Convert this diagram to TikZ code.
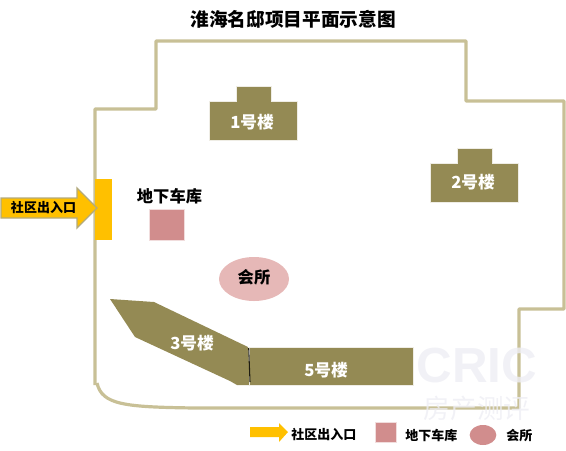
\documentclass[tikz,border=0pt]{standalone}
\usepackage{fontspec}
\setmainfont{Noto Sans CJK SC}
\usetikzlibrary{arrows.meta,positioning,shapes.geometric}
\definecolor{wallTan}{RGB}{200,192,150}
\definecolor{blockOlive}{RGB}{148,138,84}
\definecolor{gateGold}{RGB}{255,192,0}
\definecolor{garageRed}{RGB}{209,141,141}
\definecolor{clubPink}{RGB}{230,184,183}
\definecolor{markGray}{RGB}{238,238,244}
\tikzset{
  wall/.style={draw=wallTan, line width=2.4pt, line join=round},
  block/.style={fill=blockOlive, draw=white!85!blockOlive, line width=0.4pt},
  blocktext/.style={text=white, font=\fontsize{12.5}{13}\selectfont\bfseries, inner sep=0pt},
  darktext/.style={text=black, font=\fontsize{12.2}{13}\selectfont\bfseries, inner sep=0pt},
  legendtext/.style={text=black, font=\fontsize{9.75}{10}\selectfont\bfseries, inner sep=0pt},
  garage/.style={fill=garageRed, draw=white!70!garageRed, line width=0.4pt},
  watermark/.style={text=markGray, opacity=0.8, inner sep=0pt}
}
\begin{document}
\begin{tikzpicture}[x=0.75pt, y=-0.75pt]
\useasboundingbox (0,0) rectangle (566,450);
\node[text=black, font=\fontsize{14}{14}\selectfont\bfseries, inner sep=0pt] (title) at (293,19) {淮海名邸项目平面示意图};
% site boundary
\draw[wall] (95,385) -- (95,109) -- (156,109) -- (156,41) -- (466,41) -- (466,101) -- (564,101)
  -- (564,309) -- (519,309) -- (519,408) -- (195,408) .. controls (125,407) and (102,405) .. (97,383);
% buildings
\foreach \x/\y in {209.5/101,430.5/163}
  \draw[block] (\x,\y) -- (\x+27,\y) -- (\x+27,\y-15) -- (\x+62,\y-15) -- (\x+62,\y) -- (\x+88,\y)
    -- (\x+88,\y+39) -- (\x,\y+39) -- cycle;
\node[blocktext] (b1) at (252,122) {1号楼};
\node[blocktext] (b2) at (473,182) {2号楼};
\fill[blockOlive] (110,299) -- (154,302) -- (248,347) -- (250,385) -- (237,385) -- (230,381) -- (135,337) -- cycle;
\node[blocktext] (b3) at (192,343) {3号楼};
\draw[block] (249,347) rectangle (413,385);
\node[blocktext] (b5) at (326,370) {5号楼};
\draw[black!80!blockOlive, line width=0.8pt] (248.7,348) -- (250,382);
% entrance
\fill[gateGold] (95,179) rectangle (112,240);
\draw[fill=gateGold, draw=wallTan!60!blockOlive, line width=1pt] (1,198) -- (77,198) -- (77,188) -- (97,208)
  -- (77,228) -- (77,218) -- (1,218) -- cycle;
\node[legendtext] (gatetext) at (43.5,208) {社区出入口};
% garage and club
\node[darktext] (garagetext) at (169.5,196) {地下车库};
\draw[garage] (149.5,209) rectangle (184.5,240);
\node[ellipse, fill=clubPink, minimum width=52.5pt, minimum height=33pt, inner sep=0pt] (club) at (254,279) {};
\node[darktext] (clubtext) at (254,277) {会所};
% legend
\fill[gateGold] (250,427) -- (279,427) -- (279,423) -- (288,432) -- (279,442) -- (279,437) -- (250,437) -- cycle;
\node[legendtext, anchor=west] (keyarrowtext) at (291,434) {社区出入口};
\draw[garage] (375,422) rectangle (396,442);
\node[legendtext, anchor=west] (keygaragetext) at (405,435) {地下车库};
\node[ellipse, fill=garageRed, minimum width=20pt, minimum height=15pt, inner sep=0pt] (keyclub) at (483,435) {};
\node[legendtext, anchor=west] (keyclubtext) at (506,436) {会所};
% watermark
\node[watermark, font=\fontspec{Liberation Sans}\fontsize{37}{37}\selectfont\bfseries] (cric) at (477,366) {CRIC};
\node[watermark, font=\fontsize{20}{20}\selectfont] (cricsub) at (477,408) {房产测评};
\end{tikzpicture}
\end{document}
